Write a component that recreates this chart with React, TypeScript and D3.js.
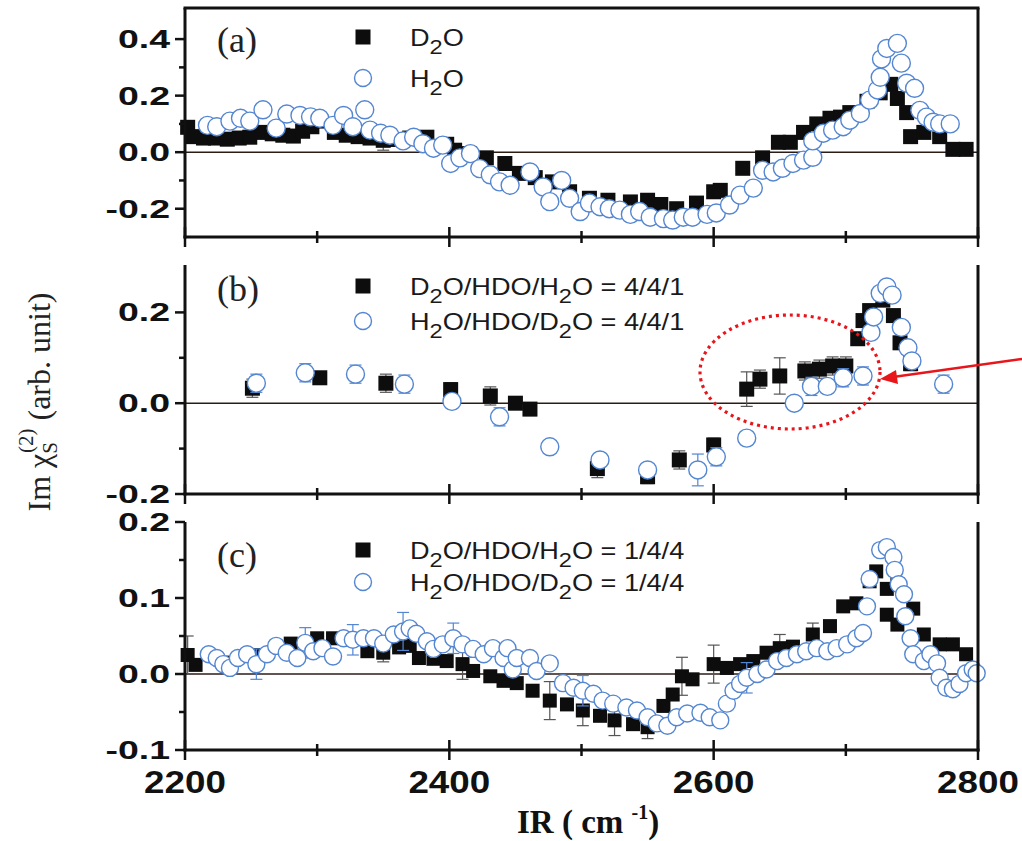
import React from 'react';
import * as d3 from 'd3';

type Pt = [number, number, number?];

const xDomain = [2200, 2800];
const xMajorTicks = [2200, 2400, 2600, 2800];
const xMinorTicks = [2300, 2500, 2700];
const xTickLabels = ['2200', '2400', '2600', '2800'];

const aYMajor = [-0.2, 0, 0.2, 0.4];
const aYMinor = [-0.1, 0.1, 0.3];
const bYMajor = [-0.2, 0, 0.2];
const bYMinor = [-0.1, 0.1];
const cYMajor = [-0.1, 0, 0.1, 0.2];
const cYMinor = [-0.05, 0.05, 0.15];

const aD2O: Pt[] = [
  [2202, 0.088], [2206, 0.055], [2214, 0.05], [2223, 0.05], [2232, 0.046], [2241, 0.05], [2249, 0.053],
  [2258, 0.07], [2266, 0.065], [2274, 0.06], [2282, 0.057], [2289, 0.074], [2296, 0.09], [2302, 0.11],
  [2313, 0.07], [2322, 0.06], [2331, 0.055], [2340, 0.05], [2350, 0.042, 0.035], [2360, 0.045], [2370, 0.05],
  [2383, 0.053], [2398, 0.028], [2404, 0.007], [2415, -0.005], [2428, -0.02], [2442, -0.04], [2453, -0.075],
  [2465, -0.09], [2478, -0.105], [2491, -0.14], [2506, -0.163], [2520, -0.17], [2537, -0.176], [2550, -0.17],
  [2560, -0.185], [2572, -0.2], [2587, -0.18], [2600, -0.14], [2605, -0.135], [2622, -0.057], [2637, -0.02],
  [2649, 0.035], [2658, 0.035], [2668, 0.07], [2678, 0.1], [2688, 0.12], [2696, 0.124], [2703, 0.14],
  [2716, 0.18], [2726, 0.21], [2734, 0.24], [2739, 0.19], [2746, 0.14], [2749, 0.055, 0.02], [2759, 0.07],
  [2771, 0.055], [2781, 0.01], [2791, 0.01],
];

const aH2O: Pt[] = [
  [2217, 0.095], [2224, 0.09], [2234, 0.11], [2242, 0.12], [2249, 0.11], [2259, 0.15], [2269, 0.085],
  [2277, 0.135], [2287, 0.13], [2295, 0.125], [2302, 0.12], [2312, 0.095], [2320, 0.13], [2327, 0.09],
  [2336, 0.15], [2340, 0.078], [2348, 0.067], [2355, 0.06], [2365, 0.04], [2373, 0.053], [2380, 0.03],
  [2388, 0.014], [2395, 0.025], [2401, -0.04], [2408, -0.02], [2416, -0.005], [2423, -0.058], [2431, -0.08],
  [2438, -0.105], [2446, -0.117], [2461, -0.07], [2471, -0.123], [2476, -0.175], [2485, -0.1], [2491, -0.163],
  [2499, -0.21], [2506, -0.18], [2514, -0.193], [2521, -0.2], [2529, -0.205], [2537, -0.22], [2544, -0.21],
  [2552, -0.23], [2562, -0.235], [2569, -0.24], [2577, -0.23], [2584, -0.23], [2595, -0.22], [2602, -0.215],
  [2612, -0.187], [2620, -0.152], [2630, -0.127], [2637, -0.064], [2645, -0.07], [2652, -0.057], [2660, -0.04],
  [2668, -0.028], [2675, -0.018], [2675, 0.04], [2683, 0.067], [2690, 0.078], [2698, 0.09], [2703, 0.113],
  [2711, 0.137], [2718, 0.184], [2724, 0.22], [2726, 0.265], [2727, 0.33], [2731, 0.367], [2739, 0.385],
  [2742, 0.315], [2746, 0.244], [2752, 0.226], [2756, 0.148], [2761, 0.124], [2766, 0.106], [2771, 0.1],
  [2779, 0.1],
];

const bD2O: Pt[] = [
  [2251, 0.033, 0.02], [2302, 0.056, 0.012], [2352, 0.044, 0.02], [2401, 0.03, 0.015], [2431, 0.016, 0.02],
  [2450, 0.0, 0.01], [2461, -0.013, 0.014], [2512, -0.144, 0.02], [2550, -0.162, 0.015], [2574, -0.125, 0.02],
  [2600, -0.092, 0.015], [2625, 0.031, 0.038], [2635, 0.053, 0.02], [2650, 0.06, 0.04], [2669, 0.071, 0.02],
  [2680, 0.075, 0.02], [2690, 0.082, 0.02], [2700, 0.082, 0.02], [2709, 0.142], [2713, 0.182], [2718, 0.204],
  [2728, 0.227], [2736, 0.193], [2741, 0.133], [2749, 0.087, 0.015],
];

const bH2O: Pt[] = [
  [2254, 0.044, 0.02], [2291, 0.067, 0.02], [2329, 0.064, 0.02], [2366, 0.042, 0.02], [2402, 0.004, 0.01],
  [2438, -0.03, 0.02], [2476, -0.096, 0.01], [2514, -0.125, 0.015], [2550, -0.147, 0.012], [2588, -0.147, 0.035],
  [2602, -0.118, 0.02], [2625, -0.077, 0.015], [2661, 0.0], [2674, 0.037, 0.02], [2686, 0.037, 0.015],
  [2698, 0.056, 0.02], [2713, 0.06, 0.02], [2719, 0.156], [2721, 0.19], [2726, 0.242, 0.015], [2731, 0.256],
  [2735, 0.238], [2742, 0.167], [2747, 0.122], [2750, 0.093], [2774, 0.042, 0.02],
];

const cD2O: Pt[] = [
  [2202, 0.025, 0.025], [2208, 0.012], [2230, 0.015], [2255, 0.025], [2280, 0.04], [2300, 0.047], [2312, 0.047],
  [2325, 0.045], [2338, 0.03], [2350, 0.028, 0.012], [2362, 0.035], [2370, 0.037], [2377, 0.021], [2388, 0.02],
  [2398, 0.017], [2410, 0.013, 0.02], [2418, 0.004], [2431, -0.003], [2441, -0.009], [2451, -0.012],
  [2463, -0.022], [2476, -0.035, 0.025], [2489, -0.04], [2501, -0.048, 0.02], [2514, -0.055], [2525, -0.061, 0.02],
  [2539, -0.066], [2550, -0.07, 0.015], [2562, -0.042], [2569, -0.027], [2576, -0.003, 0.025], [2584, -0.007],
  [2600, 0.013, 0.025], [2610, 0.008], [2620, 0.013], [2630, 0.017], [2640, 0.028], [2650, 0.034, 0.018],
  [2660, 0.036], [2675, 0.052, 0.015], [2688, 0.063], [2698, 0.089], [2708, 0.093], [2718, 0.122], [2723, 0.135],
  [2731, 0.112], [2739, 0.118], [2731, 0.078], [2739, 0.065], [2751, 0.086], [2759, 0.052], [2771, 0.039],
  [2781, 0.039], [2791, 0.026],
];

const cH2O: Pt[] = [
  [2218, 0.026], [2224, 0.021], [2229, 0.013], [2234, 0.008], [2240, 0.021], [2247, 0.026], [2254, 0.013, 0.02],
  [2262, 0.026], [2269, 0.037], [2277, 0.028], [2285, 0.021], [2291, 0.041, 0.02], [2297, 0.03], [2304, 0.034],
  [2312, 0.023], [2320, 0.047], [2327, 0.045, 0.02], [2335, 0.047], [2343, 0.047], [2350, 0.04], [2358, 0.052],
  [2365, 0.056, 0.025], [2370, 0.06], [2375, 0.053], [2383, 0.043], [2388, 0.033], [2395, 0.039], [2403, 0.047, 0.02],
  [2410, 0.039], [2418, 0.033], [2426, 0.026], [2433, 0.034], [2441, 0.021], [2448, 0.006], [2444, 0.034],
  [2451, 0.021], [2461, 0.021], [2466, 0.004], [2476, 0.014], [2486, -0.012], [2494, -0.018], [2501, -0.022, 0.02],
  [2509, -0.026], [2516, -0.035], [2524, -0.039], [2534, -0.044], [2542, -0.048], [2550, -0.057], [2557, -0.065],
  [2565, -0.068], [2572, -0.057], [2580, -0.052], [2590, -0.051], [2597, -0.057], [2605, -0.061], [2610, -0.039],
  [2615, -0.022], [2620, -0.013], [2625, -0.005, 0.02], [2633, 0.0], [2640, 0.006], [2648, 0.017], [2655, 0.021],
  [2663, 0.026], [2670, 0.03], [2678, 0.034], [2686, 0.03], [2693, 0.034], [2701, 0.039], [2708, 0.047],
  [2713, 0.054], [2716, 0.089], [2718, 0.125], [2726, 0.163], [2731, 0.167], [2736, 0.154], [2737, 0.137],
  [2740, 0.118], [2744, 0.105], [2745, 0.076], [2749, 0.047], [2751, 0.026], [2759, 0.017], [2764, 0.026],
  [2769, 0.014], [2771, -0.005], [2776, -0.018], [2781, -0.02], [2786, -0.013], [2791, 0.001], [2796, 0.006],
  [2799, 0.001],
];

const panelLabels = ['(a)', '(b)', '(c)'];
const legendA = ['D_2O', 'H_2O'];
const legendB = ['D_2O/HDO/H_2O = 4/4/1', 'H_2O/HDO/D_2O = 4/4/1'];
const legendC = ['D_2O/HDO/H_2O = 1/4/4', 'H_2O/HDO/D_2O = 1/4/4'];

const yAxisTitle = { main: 'Im\u00a0\u03c7', sub: 'S', sup: '(2)', rest: ' (arb. unit)' };
const xAxisTitle = { main: 'IR ( cm ', sup: '-1', rest: ')' };

const X0 = 185;
const X1 = 978;
const BLUE = '#5486d2';
const SANS = '"Liberation Sans", Arial, sans-serif';
const SERIF = '"Liberation Serif", "Times New Roman", serif';

const panels = [
  { label: panelLabels[0], top: 8, bottom: 237, domain: [-0.3, 0.51], range: [237, 8], major: aYMajor, minor: aYMinor,
    sq: aD2O, ci: aH2O, legend: legendA, legendY: [37, 78], frameTop: true, sqSize: 15, r: 9, labelY: 52 },
  { label: panelLabels[1], top: 265, bottom: 494, domain: [-0.2, 0.3], range: [494, 267], major: bYMajor, minor: bYMinor,
    sq: bD2O, ci: bH2O, legend: legendB, legendY: [286, 321], frameTop: false, sqSize: 15, r: 9, labelY: 301 },
  { label: panelLabels[2], top: 522, bottom: 750, domain: [-0.1, 0.2], range: [750, 522], major: cYMajor, minor: cYMinor,
    sq: cD2O, ci: cH2O, legend: legendC, legendY: [550, 582], frameTop: false, sqSize: 14, r: 8.5, labelY: 567 },
];

function rich(s: string, subSize: number, subDy: number) {
  const parts = s.split(/_(\d)/);
  return parts.map((p, i) =>
    i % 2 === 1 ? (
      <tspan key={i} fontSize={subSize} dy={subDy}>{p}</tspan>
    ) : (
      <tspan key={i} dy={i === 0 ? 0 : -subDy}>{p}</tspan>
    )
  );
}

function ErrBar({ x, y0, y1, color }: { x: number; y0: number; y1: number; color: string }) {
  return (
    <g stroke={color} strokeWidth={1.2}>
      <line x1={x} x2={x} y1={y0} y2={y1} />
      <line x1={x - 6} x2={x + 6} y1={y0} y2={y0} />
      <line x1={x - 6} x2={x + 6} y1={y1} y2={y1} />
    </g>
  );
}

export default function App() {
  const x = d3.scaleLinear().domain(xDomain).range([X0, X1]);

  return (
    <svg width={1022} height={841} style={{ position: 'absolute', left: 0, top: 0, background: '#fff' }}>
      {panels.map((p, pi) => {
        const y = d3.scaleLinear().domain(p.domain).range(p.range);
        const y0 = y(0);
        return (
          <g key={pi}>
            <line x1={X0} x2={X1} y1={y0} y2={y0} stroke="#2b1d16" strokeWidth={1.6} />
            {p.sq.map((d, i) =>
              d[2] ? <ErrBar key={'se' + i} x={x(d[0])} y0={y(d[1] - d[2])} y1={y(d[1] + d[2])} color="#555" /> : null
            )}
            {p.sq.map((d, i) => (
              <rect key={'s' + i} x={x(d[0]) - p.sqSize / 2} y={y(d[1]) - p.sqSize / 2} width={p.sqSize} height={p.sqSize} fill="#0d0d0d" />
            ))}
            {p.ci.map((d, i) =>
              d[2] ? <ErrBar key={'ce' + i} x={x(d[0])} y0={y(d[1] - d[2])} y1={y(d[1] + d[2])} color={BLUE} /> : null
            )}
            {p.ci.map((d, i) => (
              <circle key={'c' + i} cx={x(d[0])} cy={y(d[1])} r={p.r} fill="#fff" stroke={BLUE} strokeWidth={1.4} />
            ))}
            <g stroke="#111" strokeWidth={3} fill="none">
              <line x1={X0} x2={X0} y1={p.top} y2={p.bottom + 1.5} />
              <line x1={X1} x2={X1} y1={p.top} y2={p.bottom + 1.5} />
              <line x1={X0 - 1.5} x2={X1 + 1.5} y1={p.bottom} y2={p.bottom} />
              {p.frameTop ? <line x1={X0 - 1.5} x2={X1 + 1.5} y1={p.top} y2={p.top} /> : null}
            </g>
            <g stroke="#111" strokeWidth={2.5}>
              {p.major.map((v, i) => (
                <line key={'ym' + i} x1={X0 - 10} x2={X0} y1={y(v)} y2={y(v)} />
              ))}
              {p.minor.map((v, i) => (
                <line key={'yn' + i} x1={X0 - 6} x2={X0} y1={y(v)} y2={y(v)} />
              ))}
              {xMajorTicks.map((v, i) => (
                <line key={'xm' + i} x1={x(v)} x2={x(v)} y1={p.bottom - 10} y2={p.bottom + 10} />
              ))}
              {xMinorTicks.map((v, i) => (
                <line key={'xn' + i} x1={x(v)} x2={x(v)} y1={p.bottom - 6} y2={p.bottom + 6} />
              ))}
            </g>
            {p.major.map((v, i) => (
              <g key={'yl' + i} transform={`translate(170,${y(v)}) scale(1.5,1)`}>
                <text textAnchor="end" dy="0.36em" fontFamily={SANS} fontWeight="bold" fontSize={25} fill="#111">
                  {v.toFixed(1)}
                </text>
              </g>
            ))}
            <text x={217} y={p.labelY} fontFamily={SERIF} fontSize={36} fill="#222">{p.label}</text>
            <rect x={363 - 7.5} y={p.legendY[0] - 7.5} width={15} height={15} fill="#0d0d0d" />
            <circle cx={363} cy={p.legendY[1]} r={8.5} fill="#fff" stroke={BLUE} strokeWidth={1.4} />
            {p.legend.map((s, i) => (
              <g key={'lg' + i} transform={`translate(410,${p.legendY[i] + 9}) scale(1.18,1)`}>
                <text fontFamily={SANS} fontSize={23} fill="#1a1a1a">{rich(s, 20, 8)}</text>
              </g>
            ))}
          </g>
        );
      })}

      {xMajorTicks.map((v, i) => (
        <g key={'xl' + i} transform={`translate(${x(v)},793) scale(1.15,1)`}>
          <text textAnchor="middle" fontFamily={SANS} fontWeight="bold" fontSize={32} fill="#111">{xTickLabels[i]}</text>
        </g>
      ))}

      <text x={517} y={833} fontFamily={SERIF} fontWeight="bold" fontSize={33} fill="#111">
        <tspan>{xAxisTitle.main}</tspan>
        <tspan fontSize={20} dy={-14}>{xAxisTitle.sup}</tspan>
        <tspan dy={14}>{xAxisTitle.rest}</tspan>
      </text>

      <g transform="translate(50,402) rotate(-90)">
        <text textAnchor="middle" fontFamily={SERIF} fontSize={32} fill="#222">
          <tspan>{yAxisTitle.main}</tspan>
          <tspan fontSize={21} dy={7}>{yAxisTitle.sub}</tspan>
          <tspan fontSize={21} dx={-11} dy={-24}>{yAxisTitle.sup}</tspan>
          <tspan dy={17}>{yAxisTitle.rest}</tspan>
        </text>
      </g>

      <ellipse cx={790} cy={372} rx={90} ry={57} fill="none" stroke="#e8161b" strokeWidth={3.2} strokeDasharray="3 4" />
      <line x1={1022} y1={359} x2={893} y2={377} stroke="#e8161b" strokeWidth={2.5} />
      <path d="M880,379 L896,370 L898,384 Z" fill="#e8161b" />
    </svg>
  );
}
